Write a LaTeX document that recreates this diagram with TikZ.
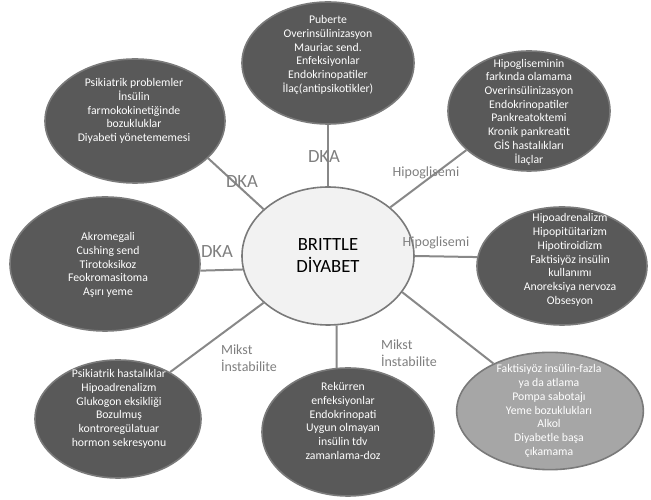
\documentclass[tikz,border=0pt]{standalone}
\usepackage{fontspec}
\setmainfont{Carlito}
\usetikzlibrary{shapes.geometric}
\definecolor{ellfill}{HTML}{595959}
\definecolor{ellfilllight}{HTML}{A6A6A6}
\definecolor{ellline}{HTML}{7A7A7A}
\definecolor{centerfill}{HTML}{F2F2F2}
\definecolor{linkgray}{HTML}{888888}
\definecolor{labelgray}{HTML}{7F7F7F}
\begin{document}
\begin{tikzpicture}[x=0.75pt,y=0.75pt,line join=round,
    ell/.style={ellipse,draw=ellline,line width=1.2pt,inner sep=0pt},
    darkell/.style={ell,fill=ellfill},
    lightell/.style={ell,fill=ellfilllight},
    celltext/.style={align=center,text=white,font=\fontsize{8.8}{10.3}\selectfont},
    link/.style={draw=linkgray,line width=1.5pt},
    linktext/.style={align=left,text=labelgray,font=\fontsize{10.5}{13}\selectfont},
    dkatext/.style={text=labelgray,font=\fontsize{14}{16}\selectfont}]
    \useasboundingbox (0,0) rectangle (651,500);
    % ellipses
    \node[ell,fill=centerfill,minimum width=129pt,minimum height=103.5pt,
        align=center,font=\fontsize{14}{16.5}\selectfont] (brittle) at (328,244) {BRITTLE\\DİYABET};
    \node[darkell,minimum width=129pt,minimum height=91.5pt] (top) at (328,437) {};
    \node[darkell,minimum width=135pt,minimum height=93pt] (topleft) at (135,379) {};
    \node[darkell,minimum width=121.5pt,minimum height=90pt] (topright) at (529,389) {};
    \node[darkell,minimum width=142.5pt,minimum height=100.5pt] (left) at (105,236) {};
    \node[darkell,minimum width=127.5pt,minimum height=88.5pt] (right) at (562,234) {};
    \node[darkell,minimum width=124.5pt,minimum height=88.5pt] (botleft) at (118,81) {};
    \node[darkell,minimum width=129pt,minimum height=96pt] (bot) at (348,68) {};
    \node[lightell,minimum width=140pt,minimum height=88pt] (botright) at (550,89) {};
    % texts
    \node[celltext] (toptext) at (328,445) {Puberte\\Overinsülinizasyon\\Mauriac send.\\Enfeksiyonlar\\Endokrinopatiler\\İlaç(antipsikotikler)};
    \node[celltext] (toplefttext) at (134,389) {Psikiatrik problemler\\İnsülin\\farmokokinetiğinde\\bozukluklar\\Diyabeti yönetememesi};
    \node[celltext] (toprighttext) at (529,388) {Hipogliseminin\\farkında olamama\\Overinsülinizasyon\\Endokrinopatiler\\Pankreatoktemi\\Kronik pankreatit\\GİS hastalıkları\\İlaçlar};
    \node[celltext] (lefttext) at (108,235) {Akromegali\\Cushing send\\Tirotoksikoz\\Feokromasitoma\\Aşırı yeme};
    \node[celltext] (righttext) at (570,240) {Hipoadrenalizm\\Hipopitüitarizm\\Hipotiroidizm\\Faktisiyöz insülin\\kullanımı\\Anoreksiya nervoza\\Obsesyon};
    \node[celltext] (botlefttext) at (119,91) {Psikiatrik hastalıklar\\Hipoadrenalizm\\Glukogon eksikliği\\Bozulmuş\\kontroregülatuar\\hormon sekresyonu};
    \node[celltext] (bottext) at (343,79) {Rekürren\\enfeksiyonlar\\Endokrinopati\\Uygun olmayan\\insülin tdv\\zamanlama-doz};
    \node[celltext] (botrighttext) at (549,89) {Faktisiyöz insülin-fazla\\ya da atlama\\Pompa sabotajı\\Yeme bozuklukları\\Alkol\\Diyabetle başa\\çıkamama};
    % connectors
    \draw[link] (brittle.90) -- (top.270);
    \draw[link] (brittle.144) -- (topleft.-27);
    \draw[link] (brittle.189) -- (left.-4);
    \draw[link] (brittle.38) -- (topright.212);
    \draw[link] (brittle.0) -- (right.174);
    \draw[link] (brittle.216) -- (botleft.42);
    \draw[link] (brittle.-83) -- (bot.100);
    \draw[link] (brittle.-26) -- (botright.140);
    % labels
    \node[dkatext] (dkatop) at (324,343) {DKA};
    \node[dkatext] (dkatopleft) at (242,318) {DKA};
    \node[dkatext] (dkaleft) at (217,248) {DKA};
    \node[linktext] (hipotop) at (426,327) {Hipoglisemi};
    \node[linktext] (hiporight) at (436,257) {Hipoglisemi};
    \node[linktext] (mikstleft) at (249,142) {Mikst\\İnstabilite};
    \node[linktext] (mikstbot) at (409,147) {Mikst\\İnstabilite};
\end{tikzpicture}
\end{document}
